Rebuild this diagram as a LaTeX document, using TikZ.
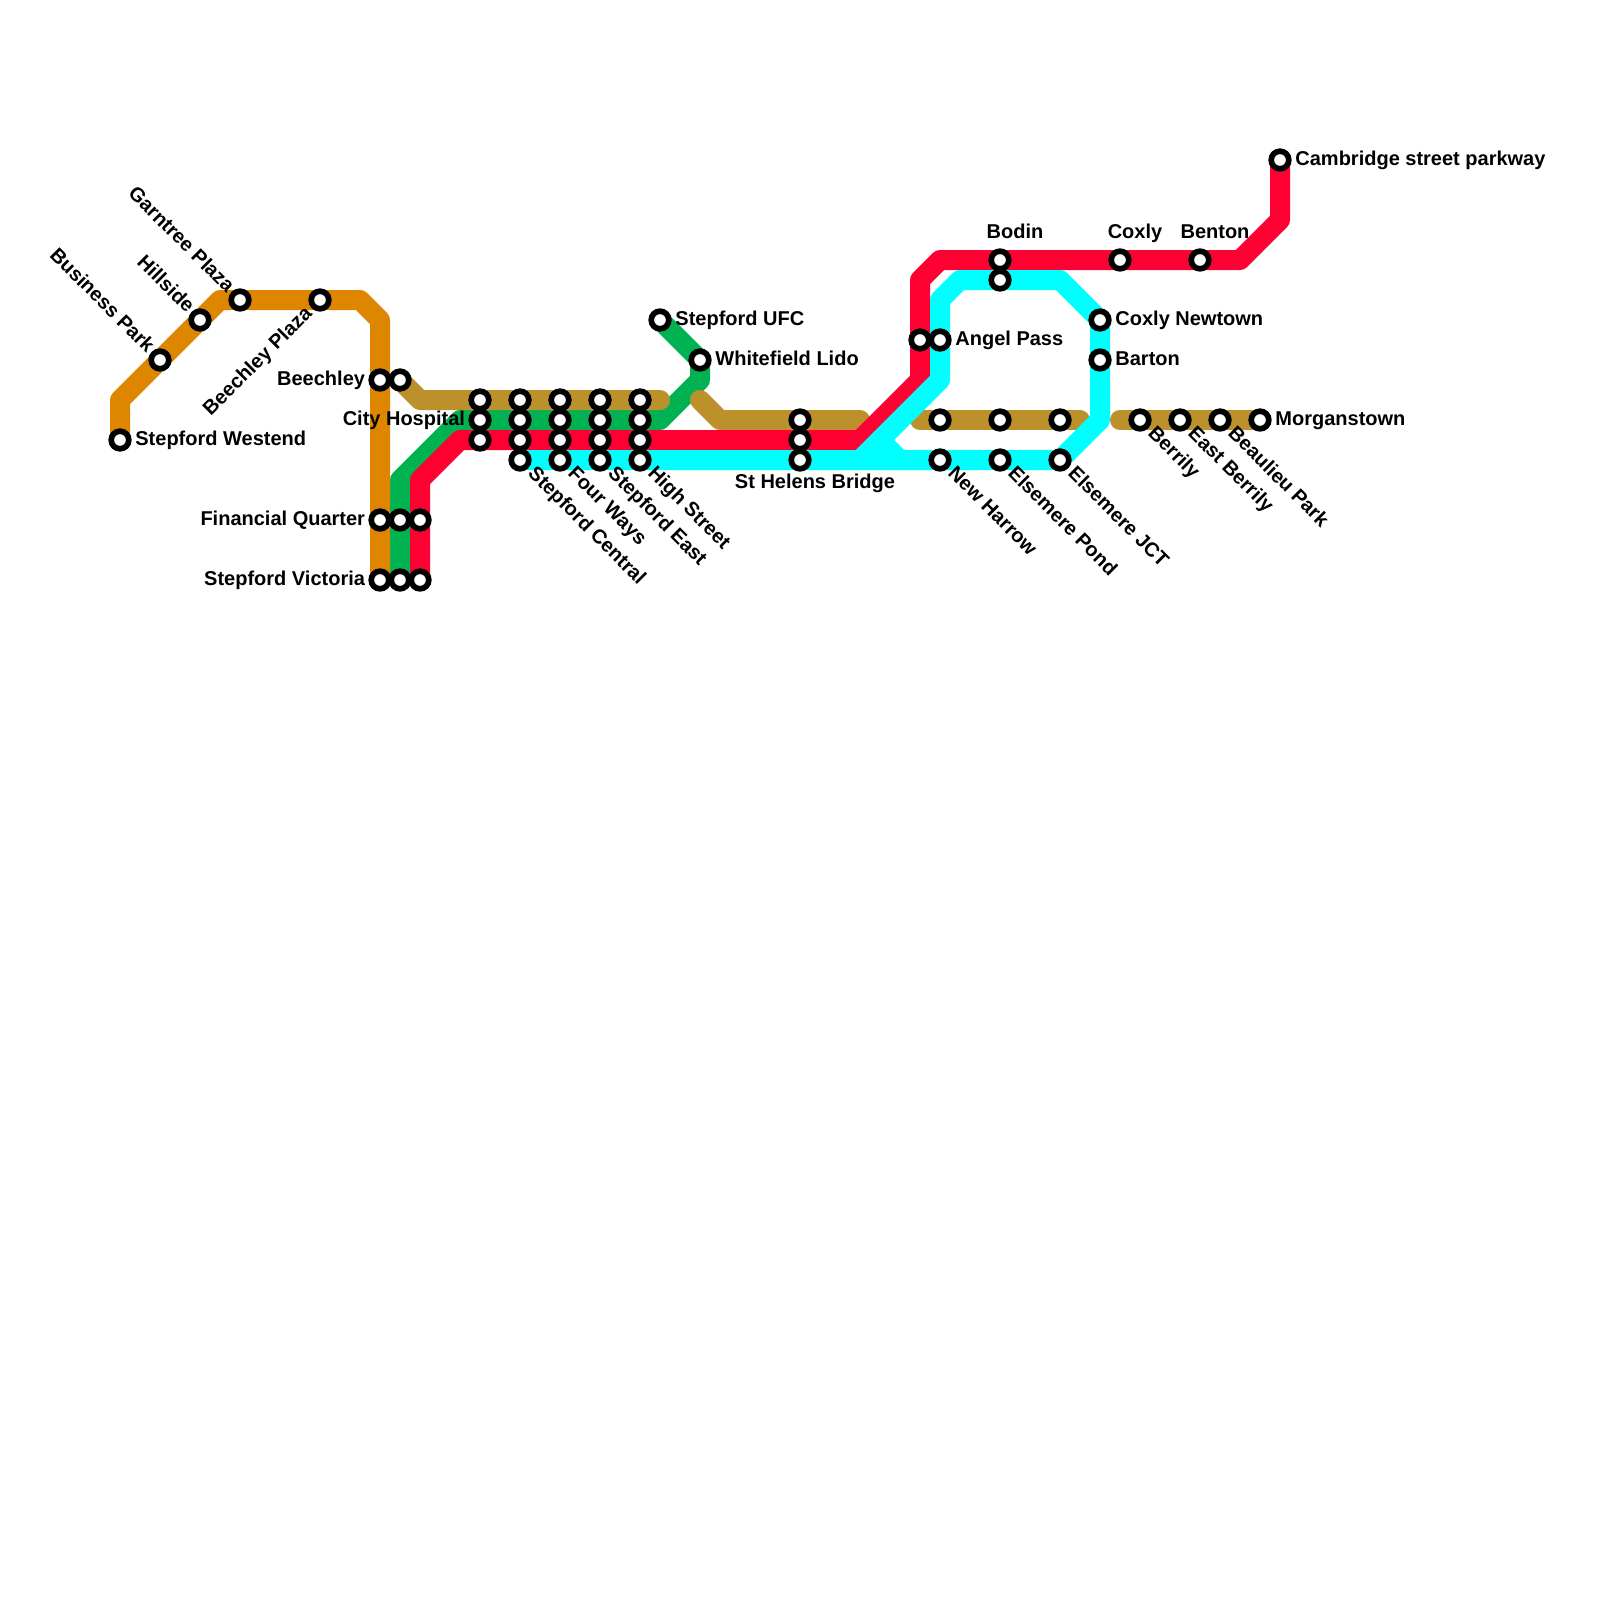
\documentclass[tikz,border=0pt]{standalone}
\usepackage{fontspec}
\setmainfont{Liberation Sans}
\usepackage{xcolor}
\usetikzlibrary{backgrounds}
\definecolor{lineorange}{RGB}{223,134,0}
\definecolor{linegreen}{RGB}{0,178,81}
\definecolor{linegold}{RGB}{188,145,43}
\definecolor{linered}{RGB}{255,0,51}
\definecolor{linecyan}{RGB}{0,255,255}

\begin{document}
\begin{tikzpicture}[
      x=10pt, y=-10pt,
      route/.style={line width=10pt, line join=round, line cap=round},
      stn/.style={circle, draw=black, fill=white, line width=2.85pt, minimum size=8.8pt, inner sep=0pt, outer sep=0pt},
      lbl/.style={font=\bfseries\fontsize{10}{12}\selectfont, inner sep=0pt, text height=7.2pt, text depth=2pt},
      lbe/.style={lbl, anchor=west, xshift=7.5pt},
      lbw/.style={lbl, anchor=east, xshift=-7.3pt},
      lbse/.style={lbl, rotate=-45, anchor=west, xshift=7.5pt},
      lbnw/.style={lbl, rotate=-45, anchor=east, xshift=-6.8pt},
      lbsw/.style={lbl, rotate=45, anchor=east, xshift=-7.3pt},
      lbn/.style={lbl, xshift=7.5pt, yshift=13.5pt},
      lbs/.style={lbl, xshift=7.5pt, yshift=-11.5pt}
    ]
      \useasboundingbox (0,0) rectangle (80,80);

      % stations
      \foreach \nm/\cx/\cy in {westend/6/22, business/8/18, hillside/10/16, garntree/12/15, beechplaza/16/15,
          beechley/19/19, beechleyb/20/19, finance/19/26, financeb/20/26, financec/21/26,
          victoria/19/29, victoriab/20/29, victoriac/21/29,
          cityb/24/20, city/24/21, cityc/24/22,
          centralb/26/20, centralc/26/21, centrald/26/22, central/26/23,
          waysb/28/20, waysc/28/21, waysd/28/22, ways/28/23,
          eastb/30/20, eastc/30/21, eastd/30/22, east/30/23,
          highb/32/20, highc/32/21, highd/32/22, high/32/23,
          ufc/33/16, lido/35/18,
          helensb/40/21, helensc/40/22, helens/40/23,
          angelb/46/17, angel/47/17, harrowb/47/21, harrow/47/23,
          bodin/50/13, bodinb/50/14, pondb/50/21, pond/50/23,
          jctb/53/21, jct/53/23, newtown/55/16, barton/55/18, coxly/56/13,
          berrily/57/21, eberrily/59/21, benton/60/13, beaulieu/61/21, morgan/63/21, cambridge/64/8}
        \node[stn] (\nm) at (\cx,\cy) {};

      % free line ends
      \coordinate (goldA) at (33,20);
      \coordinate (goldB) at (35,20);
      \coordinate (goldC) at (43,21);
      \coordinate (goldD) at (46,21);
      \coordinate (goldE) at (54,21);
      \coordinate (goldF) at (56,21);
      \coordinate (fork) at (44,22);
      \coordinate (forkb) at (45,23);

      \begin{scope}[on background layer]
        \draw[route, linegreen] (victoriab.center) -- (20,24) -- (23,21) -- (33,21) -- (35,19) -- (lido.center) -- (ufc.center);
        \draw[route, lineorange] (westend.center) -- (6,20) -- (11,15) -- (18,15) -- (19,16) -- (victoria.center);
        \draw[route, linegold] (beechleyb.center) -- (21,20) -- (goldA);
        \draw[route, linegold] (goldB) -- (36,21) -- (goldC);
        \draw[route, linegold] (goldD) -- (goldE);
        \draw[route, linegold] (goldF) -- (morgan.center);
        \draw[route, linered] (victoriac.center) -- (21,24) -- (23,22) -- (43,22) -- (46,19) -- (46,14) -- (47,13) -- (62,13) -- (64,11) -- (cambridge.center);
        \draw[route, linecyan] (central.center) -- (jct.center) -- (55,21) -- (newtown.center) -- (53,14) -- (48,14) -- (47,15) -- (47,19) -- (43,23);
        \draw[route, linecyan] (fork) -- (forkb);
      \end{scope}

      % labels
      \foreach \nm/\txt in {westend/Stepford Westend, ufc/Stepford UFC, lido/Whitefield Lido, angel/Angel Pass,
          newtown/Coxly Newtown, barton/Barton, morgan/Morganstown, cambridge/Cambridge street parkway}
        \node[lbe] (\nm-l) at (\nm) {\txt};
      \foreach \nm/\txt in {beechley/Beechley, city/City Hospital, finance/Financial Quarter, victoria/Stepford Victoria}
        \node[lbw] (\nm-l) at (\nm) {\txt};
      \foreach \nm/\txt in {central/Stepford Central, ways/Four Ways, east/Stepford East, high/High Street,
          harrow/New Harrow, pond/Elsemere Pond, jct/Elsemere JCT, berrily/Berrily, eberrily/East Berrily, beaulieu/Beaulieu Park}
        \node[lbse] (\nm-l) at (\nm) {\txt};
      \foreach \nm/\txt in {business/Business Park, hillside/Hillside, garntree/Garntree Plaza}
        \node[lbnw] (\nm-l) at (\nm) {\txt};
      \node[lbsw] (beechplaza-l) at (beechplaza) {Beechley Plaza};
      \foreach \nm/\txt in {bodin/Bodin, coxly/Coxly, benton/Benton}
        \node[lbn] (\nm-l) at (\nm) {\txt};
      \node[lbs] (helens-l) at (helens) {St Helens Bridge};
    \end{tikzpicture}
\end{document}
